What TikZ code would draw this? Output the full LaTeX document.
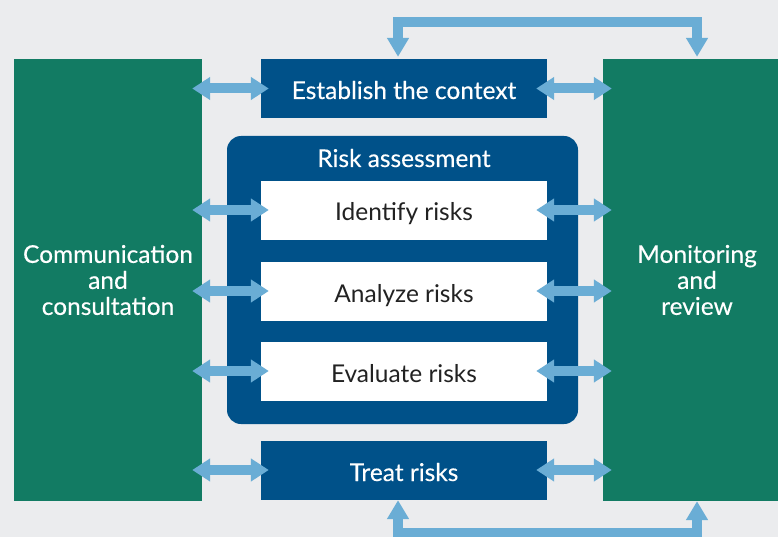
\documentclass[tikz,border=0pt]{standalone}
\usepackage{fontspec}
\setmainfont{Lato}
\newfontfamily\boxfont{Lato}[FakeBold=0.3]
\usetikzlibrary{arrows.meta}
\definecolor{bgcol}{HTML}{EBECEE}
\definecolor{greencol}{HTML}{127B63}
\definecolor{bluecol}{HTML}{005189}
\definecolor{arrowcol}{HTML}{6AADD5}
\definecolor{textcol}{HTML}{222222}
\tikzset{
	sidebox/.style={fill=greencol, text=white, inner sep=0pt, minimum width=188pt, minimum height=442pt, align=center, font=\boxfont\fontsize{24.5}{26}\selectfont},
	stagebox/.style={fill=bluecol, text=white, inner sep=0pt, minimum width=286pt, minimum height=59pt, text height=21pt, text depth=0pt, font=\boxfont\fontsize{24.5}{28}\selectfont},
	stepbox/.style={fill=white, text=textcol, inner sep=0pt, minimum width=286pt, minimum height=59pt, text height=21pt, text depth=0pt, font=\fontsize{24.5}{28}\selectfont},
	dbl/.style={draw=arrowcol, line width=10pt, {Triangle[width=22pt,length=18pt]}-{Triangle[width=22pt,length=18pt]}},
	fb/.style={draw=arrowcol, line width=10pt, {Triangle[width=21pt,length=19pt]}-{Triangle[width=21pt,length=19pt]}}
}
\begin{document}
\begin{tikzpicture}[x=1pt, y=-1pt]
			%%%%% START %%%%%
			
			\useasboundingbox[fill=bgcol] (0, 0) rectangle (778, 537);
			
			\node[sidebox] (comm) at (108, 280) {Communication\\and\\consultation};
			\node[sidebox] (mon) at (697, 280) {Monitoring\\and\\review};
			
			\node[stagebox] (ctx) at (404, 88.5) {Establish the context};
			\node[fill=bluecol, rounded corners=14pt, minimum width=351pt, minimum height=288pt] (assess) at (402.5, 280) {};
			\node[text=white, inner sep=0pt, text height=21pt, text depth=0pt, font=\boxfont\fontsize{24.5}{28}\selectfont] (title) at (404, 156.5) {Risk assessment};
			\node[stepbox] (ident) at (404, 210.5) {Identify risks};
			\node[stepbox] (anal) at (404, 291.5) {Analyze risks};
			\node[stepbox] (eval) at (404, 371.5) {Evaluate risks};
			\node[stagebox] (treat) at (404, 470.5) {Treat risks};
			
			\coordinate (top) at (550, 22);
			\coordinate (bot) at (550, 533);
			
			% two-way links to both sides
			\foreach \n/\dy in {ctx/0, ident/0.5, anal/0.5, eval/0.5, treat/0.5} {
				\draw[dbl] ([xshift=-10pt, yshift=\dy pt]comm.east |- \n.west) -- ([xshift=8pt, yshift=\dy pt]\n.west);
				\draw[dbl] ([xshift=-11pt, yshift=\dy pt]\n.east) -- ([xshift=9pt, yshift=\dy pt]mon.west |- \n.east);
			}
			
			% feedback loops
			\draw[fb] ([xshift=-6pt, yshift=2pt]ctx.north) |- (top) -| ([yshift=2pt]mon.north);
			\draw[fb] ([xshift=-6pt]treat.south) |- (bot) -| (mon.south);
			
			%%%%% END %%%%%
		\end{tikzpicture}
\end{document}
